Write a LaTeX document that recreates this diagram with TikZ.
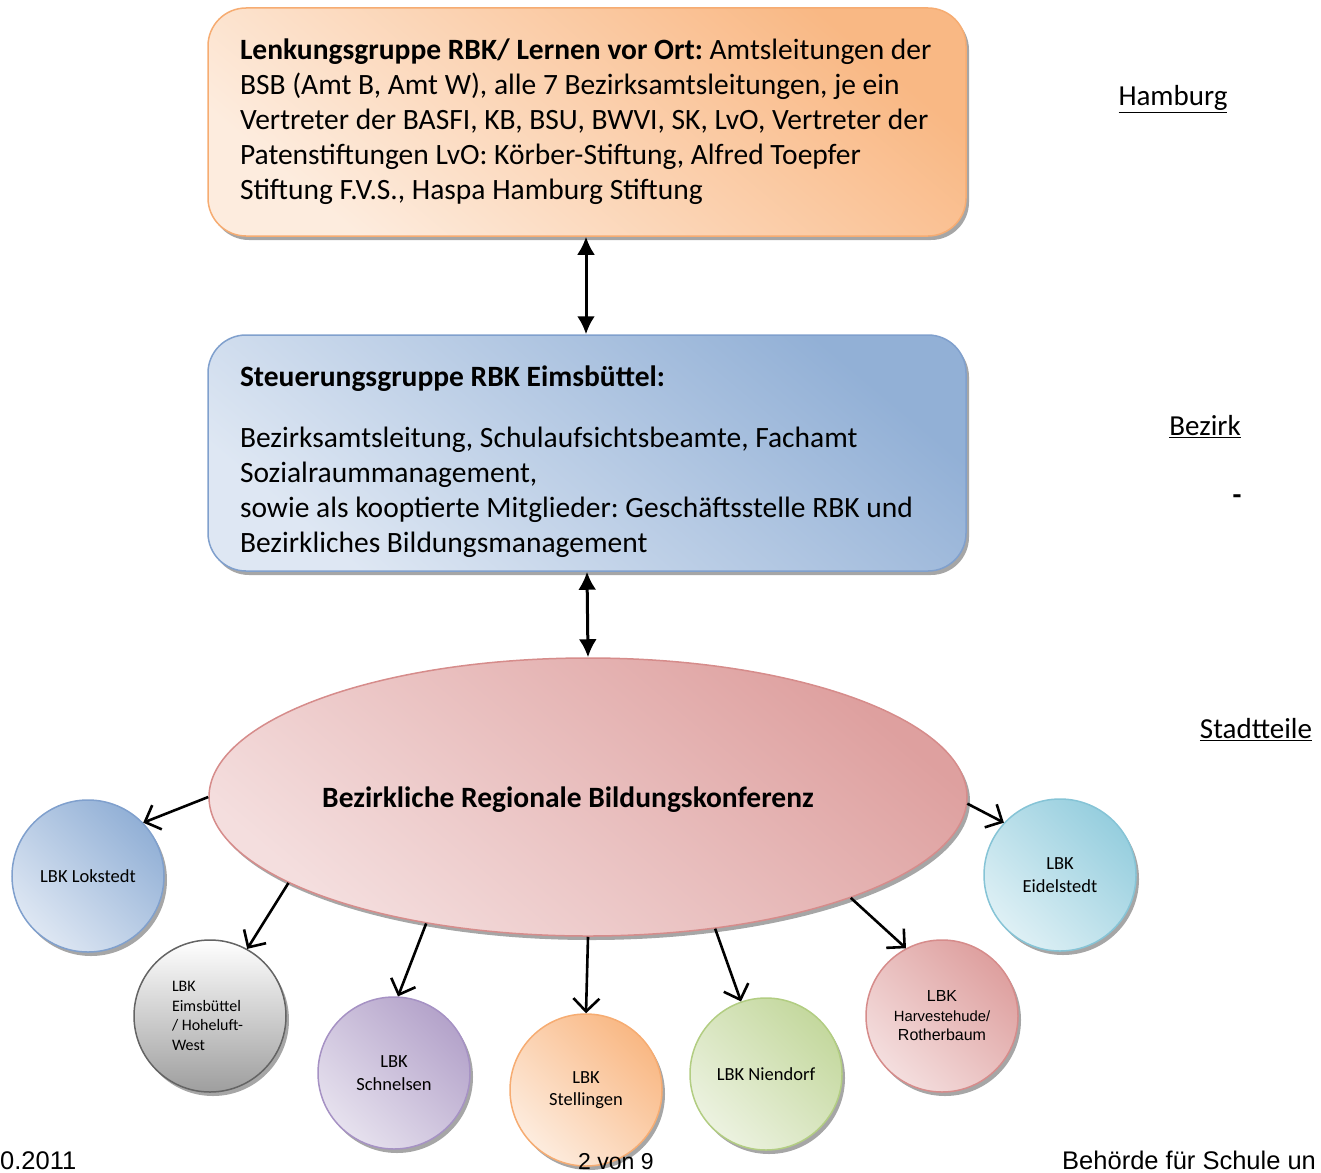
\documentclass[tikz,border=0pt]{standalone}
\usepackage{fontspec}
\setmainfont{Carlito}
\newfontfamily\arialfont{Liberation Sans}
\usetikzlibrary{shadows,arrows.meta,shapes.geometric}
\definecolor{orL}{RGB}{253,236,222}
\definecolor{orD}{RGB}{249,184,132}
\definecolor{orB}{RGB}{246,172,114}
\definecolor{blL}{RGB}{222,231,243}
\definecolor{blD}{RGB}{146,176,214}
\definecolor{blB}{RGB}{128,160,205}
\definecolor{rdL}{RGB}{244,222,222}
\definecolor{rdD}{RGB}{222,160,159}
\definecolor{rdB}{RGB}{214,140,139}
\definecolor{puL}{RGB}{230,225,238}
\definecolor{puD}{RGB}{180,163,202}
\definecolor{puB}{RGB}{166,146,196}
\definecolor{grL}{RGB}{236,242,224}
\definecolor{grD}{RGB}{196,216,158}
\definecolor{grB}{RGB}{178,205,130}
\definecolor{aqL}{RGB}{222,240,245}
\definecolor{aqD}{RGB}{150,206,222}
\definecolor{aqB}{RGB}{134,196,214}
\definecolor{gyB}{RGB}{100,100,100}
\frenchspacing
\begin{document}
\begin{tikzpicture}[x=1pt,y=-1pt,
  shad/.style={drop shadow={shadow xshift=3pt,shadow yshift=-4pt,fill=black,opacity=0.35}},
  bigbox/.style={shad, rectangle, rounded corners=38pt, line width=1.5pt,
    inner xsep=32pt, inner ysep=0pt, text width=694pt, minimum height=#1,
    align=flush left, font=\fontsize{29.5}{35}\selectfont},
  circ/.style n args={3}{shad, circle, minimum size=152pt, inner sep=0pt,
    line width=1.5pt, draw=#3, top color=#2, bottom color=#1, shading angle=-45,
    align=center, font=\fontsize{18.5}{22.5}\selectfont},
  dbl/.style={{Latex[length=18pt,width=18pt]}-{Latex[length=18pt,width=18pt]}, line width=3pt},
  child/.style={-{Straight Barb[length=13pt,width=26pt]}, line width=2.6pt},
  lvl/.style={font=\fontsize{29}{32}\selectfont},
  foot/.style={font=\arialfont\fontsize{25.5}{28}\selectfont, anchor=base west, inner sep=0pt}
]
\useasboundingbox (0,0) rectangle (1321,1172);

% top box
\node[bigbox=228pt, draw=orB, top color=orD, bottom color=orL, shading angle=-40] (lenk) at (587,122)
{{\bfseries Lenkungsgruppe RBK/ Lernen vor Ort:} Amtsleitungen der\\
BSB (Amt B, Amt W), alle 7 Bezirksamtsleitungen, je ein\\
Vertreter der BASFI, KB, BSU, BWVI, SK, LvO, Vertreter der\\
Patenstiftungen LvO: Körber-Stiftung, Alfred Toepfer\\
Stiftung F.V.S., Haspa Hamburg Stiftung};

% middle box
\node[bigbox=236pt, draw=blB, top color=blD, bottom color=blL, shading angle=-40] (steu) at (587,453)
{\rule{0pt}{39pt}{\bfseries Steuerungsgruppe RBK Eimsbüttel:}\\[26pt]
Bezirksamtsleitung, Schulaufsichtsbeamte, Fachamt\\
Sozialraummanagement,\\
sowie als kooptierte Mitglieder: Geschäftsstelle RBK und\\
Bezirkliches Bildungsmanagement};

% ellipse
\node[shad, ellipse, minimum width=758pt, minimum height=278pt, line width=1.5pt,
  draw=rdB, top color=rdD, bottom color=rdL, shading angle=-40] (bz) at (588,797) {};
\node[font=\bfseries\fontsize{29.5}{32}\selectfont] (bztext) at (568,800) {Bezirkliche Regionale Bildungskonferenz};

% circles
\node[circ={blL}{blD}{blB}] (lok) at (88,876) {LBK Lokstedt};
\node[circ={white}{white}{gyB}, top color=white, bottom color=black!38, shading angle=0,
  align=flush left, text width=76pt, font=\fontsize{16}{19.5}\selectfont] (eim) at (210,1016)
  {LBK\\Eimsbüttel\\/ Hoheluft-\\West};
\node[circ={puL}{puD}{puB}] (sch) at (394,1073) {LBK\\Schnelsen};
\node[circ={orL}{orD}{orB}] (ste) at (586,1090) {LBK\\Stellingen};
\node[circ={grL}{grD}{grB}] (nie) at (766,1074) {LBK Niendorf};
\node[circ={rdL}{rdD}{rdB}, font=\arialfont\fontsize{16}{19.5}\selectfont] (har) at (942,1016)
  {LBK\\{\fontsize{14.8}{19.5}\selectfont Harvestehude/}\\Rotherbaum};
\node[circ={aqL}{aqD}{aqB}] (eid) at (1060,875) {LBK\\Eidelstedt};

% connectors
\draw[dbl] ([xshift=-1pt]lenk.south) -- ([xshift=-1pt]steu.north);
\draw[dbl] (steu.south) -- (bz.north);
\draw[child] (bz.180.5) -- (lok.44);
\draw[child] (bz.196) -- (eim.61.5);
\draw[child] (bz.218) -- (sch.87);
\draw[child] (bz.270) -- (ste.90);
\draw[child] (bz.314.5) -- (nie.109.5);
\draw[child] (bz.339.7) -- (har.118.5);
\draw[child] (bz.359.5) -- (eid.137.5);

% level labels
\node[lvl] (hh) at (1173,99) {\underline{Hamburg}};
\node[lvl] (bzk) at (1205,427) {\underline{Bezirk}};
\node[lvl, font=\bfseries\fontsize{29}{32}\selectfont] (dash) at (1237,500) {-};
\node[lvl] (st) at (1256,730) {\underline{Stadtteile}};

% footer
\node[foot] (f1) at (0,1169) {0.2011};
\node[foot, font=\arialfont\fontsize{23}{26}\selectfont] (f2) at (578,1169) {2 von 9};
\node[foot] (f3) at (1062,1169) {Behörde für Schule un};
\end{tikzpicture}
\end{document}
